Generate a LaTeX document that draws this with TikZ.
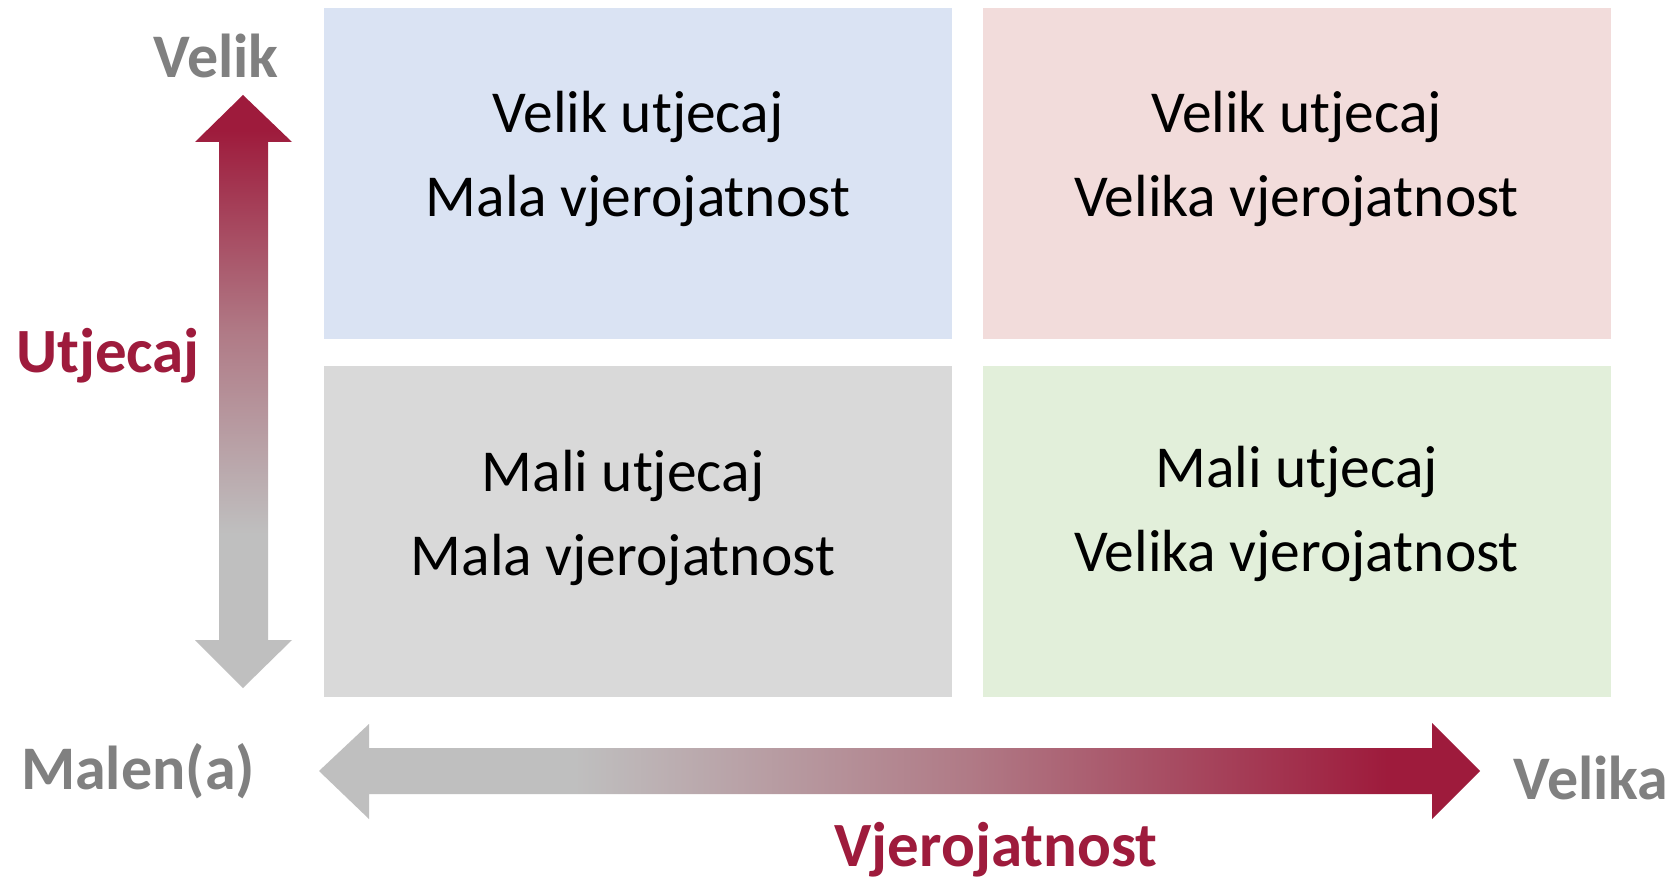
\documentclass[tikz,border=0pt]{standalone}
\usepackage{fontspec}
\setmainfont{Carlito}
\definecolor{rd}{HTML}{9E1B3C}
\definecolor{ag}{HTML}{BFBFBF}
\definecolor{tg}{HTML}{808080}
\definecolor{mid}{HTML}{B07A86}
\definecolor{cTL}{HTML}{DAE3F3}
\definecolor{cTR}{HTML}{F2DCDB}
\definecolor{cBL}{HTML}{D9D9D9}
\definecolor{cBR}{HTML}{E2EFDA}
\pgfdeclareverticalshading{vgrad}{100bp}{color(0bp)=(ag); color(38bp)=(ag); color(55bp)=(mid); color(72bp)=(rd); color(100bp)=(rd)}
\pgfdeclarehorizontalshading{hgrad}{100bp}{color(0bp)=(ag); color(36bp)=(ag); color(53bp)=(mid); color(71bp)=(rd); color(100bp)=(rd)}
\tikzset{
  quad/.style={draw=none, minimum width=628pt, minimum height=331pt, inner sep=0pt},
  qtext/.style={align=center, font=\fontsize{59.5}{84}\selectfont, text=black, inner sep=0pt},
  axlab/.style={font=\fontsize{62}{70}\selectfont\bfseries, text=tg, inner sep=0pt, anchor=base},
  axname/.style={font=\fontsize{63}{70}\selectfont\bfseries, text=rd, inner sep=0pt, anchor=base},
}
\begin{document}
\begin{tikzpicture}[x=1pt,y=-1pt]
\useasboundingbox[fill=white] (0,0) rectangle (1678,882);
% quadrants
\node[quad, fill=cTL] (tl) at (638,174) {};
\node[quad, fill=cTR] (tr) at (1296.5,174) {};
\node[quad, fill=cBL] (bl) at (638,531.5) {};
\node[quad, fill=cBR] (br) at (1296.5,531.5) {};
\node[qtext] (tlt) at ([yshift=15pt]tl.center) {Velik utjecaj\\Mala vjerojatnost};
\node[qtext] (trt) at ([yshift=15pt]tr.center) {Velik utjecaj\\Velika vjerojatnost};
\node[qtext] (blt) at ([xshift=-15pt,yshift=14pt]bl.center) {Mali utjecaj\\Mala vjerojatnost};
\node[qtext] (brt) at ([yshift=18pt]br.center) {Mali utjecaj\\Velika vjerojatnost};
% vertical double arrow
\shade[shading=vgrad] (243,95) -- (292,142) -- (268,142) -- (268,640) -- (292,640)
  -- (243,688) -- (195,640) -- (219,640) -- (219,142) -- (195,142) -- cycle;
% horizontal double arrow
\shade[shading=hgrad] (319,771) -- (369,724) -- (369,748) -- (1432,748) -- (1432,723)
  -- (1480,771) -- (1432,819) -- (1432,794) -- (369,794) -- (369,819) -- cycle;
% axis labels
\node[axlab] (velik) at (216,78) {Velik};
\node[axname] (utj) at (108,373) {Utjecaj};
\node[axlab] (malen) at (138,789) {Malen(a)};
\node[axlab] (velika) at (1591,799) {Velika};
\node[axname] (vjer) at (996,866) {Vjerojatnost};
\end{tikzpicture}
\end{document}
